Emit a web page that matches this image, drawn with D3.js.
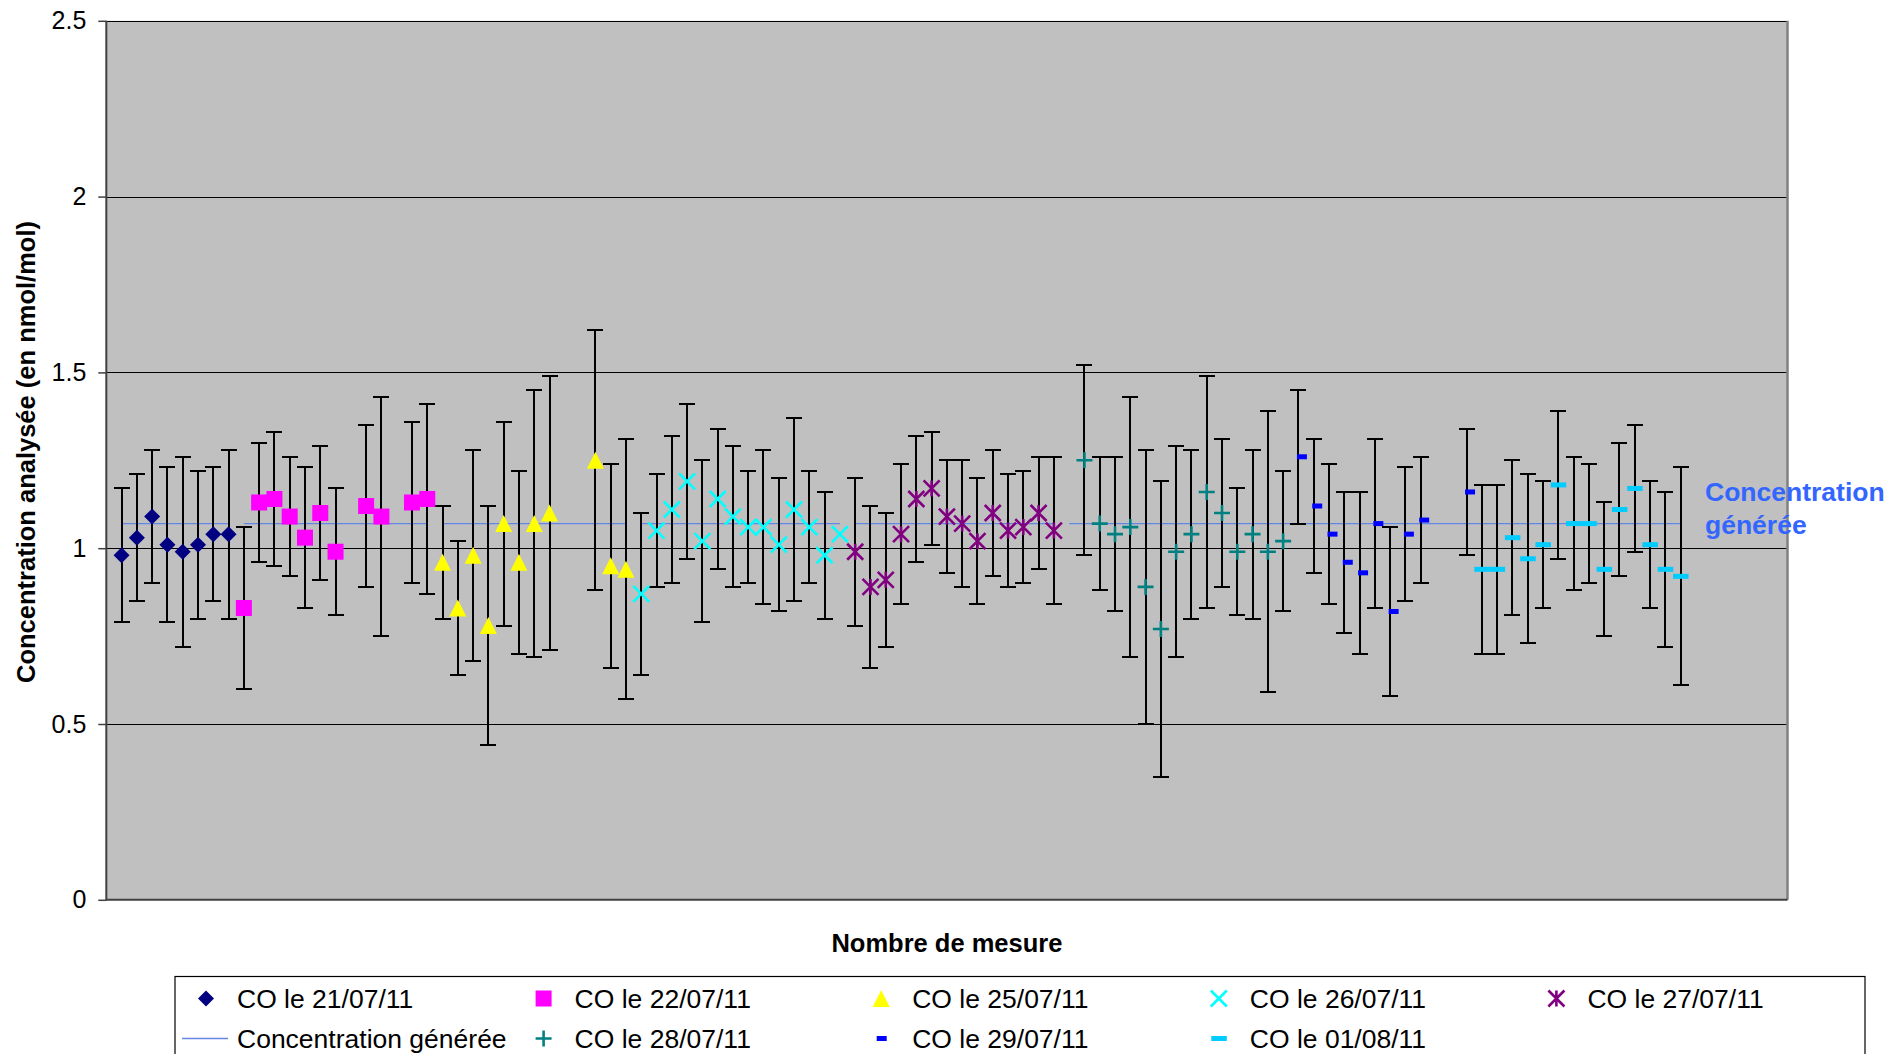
<!DOCTYPE html>
<html><head><meta charset="utf-8">
<script src="https://cdn.jsdelivr.net/npm/d3@7/dist/d3.min.js"></script>
<style>
body{margin:0;background:#fff;}
svg{display:block;font-family:"Liberation Sans",Arial,sans-serif;}
</style>
</head><body>
<svg id="chart" width="1890" height="1054"></svg>
<script>
// ---------- DATA ----------
const xMax = 110;
const yTicks = [0, 0.5, 1, 1.5, 2, 2.5];
const generatedValue = 1.07;
const generatedSegments = [[1, 8], [9, 21], [22, 34], [35, 48], [49, 62], [63, 103]];

const names = ["CO le 21/07/11", "CO le 22/07/11", "CO le 25/07/11", "CO le 26/07/11",
               "CO le 27/07/11", "CO le 28/07/11", "CO le 29/07/11", "CO le 01/08/11"];

const idx2107 = [1, 2, 3, 4, 5, 6, 7, 8];
const val2107 = [0.98, 1.03, 1.09, 1.01, 0.99, 1.01, 1.04, 1.04];
const hi2107  = [1.17, 1.21, 1.28, 1.23, 1.26, 1.22, 1.23, 1.28];
const lo2107  = [0.79, 0.85, 0.90, 0.79, 0.72, 0.80, 0.85, 0.80];

const idx2207 = [9, 10, 11, 12, 13, 14, 15, 17, 18, 20, 21];
const val2207 = [0.83, 1.13, 1.14, 1.09, 1.03, 1.10, 0.99, 1.12, 1.09, 1.13, 1.14];
const hi2207  = [1.06, 1.30, 1.33, 1.26, 1.23, 1.29, 1.17, 1.35, 1.43, 1.36, 1.41];
const lo2207  = [0.60, 0.96, 0.95, 0.92, 0.83, 0.91, 0.81, 0.89, 0.75, 0.90, 0.87];

const idx2507 = [22, 23, 24, 25, 26, 27, 28, 29, 32, 33, 34];
const val2507 = [0.96, 0.83, 0.98, 0.78, 1.07, 0.96, 1.07, 1.10, 1.25, 0.95, 0.94];
const hi2507  = [1.12, 1.02, 1.28, 1.12, 1.36, 1.22, 1.45, 1.49, 1.62, 1.24, 1.31];
const lo2507  = [0.80, 0.64, 0.68, 0.44, 0.78, 0.70, 0.69, 0.71, 0.88, 0.66, 0.57];

const idx2607 = [35, 36, 37, 38, 39, 40, 41, 42, 43, 44, 45, 46, 47, 48];
const val2607 = [0.87, 1.05, 1.11, 1.19, 1.02, 1.14, 1.09, 1.06, 1.06, 1.01, 1.11, 1.06, 0.98, 1.04];
const hi2607  = [1.10, 1.21, 1.32, 1.41, 1.25, 1.34, 1.29, 1.22, 1.28, 1.20, 1.37, 1.22, 1.16, null];
const lo2607  = [0.64, 0.89, 0.90, 0.97, 0.79, 0.94, 0.89, 0.90, 0.84, 0.82, 0.85, 0.90, 0.80, null];

const idx2707 = [49, 50, 51, 52, 53, 54, 55, 56, 57, 58, 59, 60, 61, 62];
const val2707 = [0.99, 0.89, 0.91, 1.04, 1.14, 1.17, 1.09, 1.07, 1.02, 1.10, 1.05, 1.06, 1.10, 1.05];
const hi2707  = [1.20, 1.12, 1.10, 1.24, 1.32, 1.33, 1.25, 1.25, 1.20, 1.28, 1.21, 1.22, 1.26, 1.26];
const lo2707  = [0.78, 0.66, 0.72, 0.84, 0.96, 1.01, 0.93, 0.89, 0.84, 0.92, 0.89, 0.90, 0.94, 0.84];

const idx2807 = [64, 65, 66, 67, 68, 69, 70, 71, 72, 73, 74, 75, 76, 77];
const val2807 = [1.25, 1.07, 1.04, 1.06, 0.89, 0.77, 0.99, 1.04, 1.16, 1.10, 0.99, 1.04, 0.99, 1.02];
const hi2807  = [1.52, 1.26, 1.26, 1.43, 1.28, 1.19, 1.29, 1.28, 1.49, 1.31, 1.17, 1.28, 1.39, 1.22];
const lo2807  = [0.98, 0.88, 0.82, 0.69, 0.50, 0.35, 0.69, 0.80, 0.83, 0.89, 0.81, 0.80, 0.59, 0.82];

const idx2907 = [78, 79, 80, 81, 82, 83, 84, 85, 86, 89];
const val2907 = [1.26, 1.12, 1.04, 0.96, 0.93, 1.07, 0.82, 1.04, 1.08, 1.16];
const hi2907  = [1.45, 1.31, 1.24, 1.16, 1.16, 1.31, 1.06, 1.23, 1.26, 1.34];
const lo2907  = [1.07, 0.93, 0.84, 0.76, 0.70, 0.83, 0.58, 0.85, 0.90, 0.98];

const idx0108 = [90, 91, 92, 93, 94, 95, 96, 97, 98, 99, 100, 101, 102, 103];
const val0108 = [0.94, 0.94, 1.03, 0.97, 1.01, 1.18, 1.07, 1.07, 0.94, 1.11, 1.17, 1.01, 0.94, 0.92];
const hi0108  = [1.18, 1.18, 1.25, 1.21, 1.19, 1.39, 1.26, 1.24, 1.13, 1.30, 1.35, 1.19, 1.16, 1.23];
const lo0108  = [0.70, 0.70, 0.81, 0.73, 0.83, 0.97, 0.88, 0.90, 0.75, 0.92, 0.99, 0.83, 0.72, 0.61];

// ---------- STYLE / BUILD ----------
const styles = [
  {marker: "diamond", color: "#000080"},
  {marker: "square", color: "#FF00FF"},
  {marker: "triangle", color: "#FFFF00"},
  {marker: "x", color: "#00FFFF"},
  {marker: "star", color: "#800080"},
  {marker: "plus", color: "#008080"},
  {marker: "dashSmall", color: "#0000FF"},
  {marker: "dashBig", color: "#00CCFF"}
];
const raw = [
  [idx2107, val2107, hi2107, lo2107], [idx2207, val2207, hi2207, lo2207],
  [idx2507, val2507, hi2507, lo2507], [idx2607, val2607, hi2607, lo2607],
  [idx2707, val2707, hi2707, lo2707], [idx2807, val2807, hi2807, lo2807],
  [idx2907, val2907, hi2907, lo2907], [idx0108, val0108, hi0108, lo0108]
];
const series = raw.map((r, k) => ({
  name: names[k], marker: styles[k].marker, color: styles[k].color,
  points: r[0].map((xi, j) => ({x: xi, v: r[1][j], hi: r[2][j], lo: r[3][j]}))
}));

const genColor = "#6487E6";
const L = 106.3, R = 1787.5, T = 20.8, B = 899.8;
const x = d3.scaleLinear().domain([0, xMax]).range([L, R]);
const y = d3.scaleLinear().domain([0, 2.5]).range([B, T]);

const svg = d3.select("#chart");
svg.append("rect").attr("width", 1890).attr("height", 1054).attr("fill", "#fff");

// plot area
svg.append("rect").attr("x", L).attr("y", T).attr("width", R - L).attr("height", B - T).attr("fill", "#C0C0C0");

// gridlines
svg.append("g").selectAll("line").data(yTicks.filter(d => d > 0)).join("line")
  .attr("x1", L).attr("x2", R).attr("y1", d => Math.round(y(d)) + 0.5).attr("y2", d => Math.round(y(d)) + 0.5)
  .attr("stroke", "#000").attr("stroke-width", 1);

// right border
svg.append("line").attr("x1", R).attr("x2", R).attr("y1", T).attr("y2", B)
  .attr("stroke", "#808080").attr("stroke-width", 2.5);

// y axis
const ax = svg.append("g").attr("transform", `translate(${L},0)`)
  .call(d3.axisLeft(y).tickValues(yTicks).tickFormat(d => String(d)).tickSize(8).tickPadding(12));
ax.attr("font-family", '"Liberation Sans",Arial,sans-serif').attr("font-size", 25);
ax.select(".domain").remove();
ax.selectAll(".tick line").attr("stroke", "#404040").attr("stroke-width", 1.5);
ax.selectAll(".tick text").attr("fill", "#000");

// axis lines
svg.append("line").attr("x1", L).attr("x2", L).attr("y1", T).attr("y2", B + 1)
  .attr("stroke", "#404040").attr("stroke-width", 2);
svg.append("line").attr("x1", L).attr("x2", R).attr("y1", B).attr("y2", B)
  .attr("stroke", "#404040").attr("stroke-width", 2);

// generated concentration line
const lineGen = d3.line().x(d => x(d)).y(() => y(generatedValue));
svg.append("g").selectAll("path").data(generatedSegments).join("path")
  .attr("d", d => lineGen(d)).attr("fill", "none").attr("stroke", genColor).attr("stroke-width", 1.4);

// error bars
const eb = svg.append("g").attr("stroke", "#000").attr("stroke-width", 2).attr("shape-rendering", "crispEdges");
series.forEach(s => {
  s.points.filter(p => p.hi != null).forEach(p => {
    const cx = Math.round(x(p.x));
    const yh = Math.round(y(p.hi)), yl = Math.round(y(p.lo));
    eb.append("line").attr("x1", cx).attr("x2", cx).attr("y1", yh).attr("y2", yl);
    eb.append("line").attr("x1", cx - 8).attr("x2", cx + 8).attr("y1", yh).attr("y2", yh);
    eb.append("line").attr("x1", cx - 8).attr("x2", cx + 8).attr("y1", yl).attr("y2", yl);
  });
});

// markers
function drawMarker(g, type, color, cx, cy) {
  const h = 8;
  if (type === "diamond") {
    g.append("path").attr("d", `M${cx},${cy - h}L${cx + h},${cy}L${cx},${cy + h}L${cx - h},${cy}Z`).attr("fill", color);
  } else if (type === "square") {
    g.append("rect").attr("x", cx - h).attr("y", cy - h).attr("width", 2 * h).attr("height", 2 * h).attr("fill", color);
  } else if (type === "triangle") {
    g.append("path").attr("d", `M${cx},${cy - 8.5}L${cx + 8.5},${cy + 8.5}L${cx - 8.5},${cy + 8.5}Z`).attr("fill", color);
  } else if (type === "x" || type === "star") {
    g.append("path").attr("d", `M${cx - h},${cy - h}L${cx + h},${cy + h}M${cx + h},${cy - h}L${cx - h},${cy + h}` +
      (type === "star" ? `M${cx},${cy - h}L${cx},${cy + h}` : ""))
      .attr("stroke", color).attr("stroke-width", 2.6).attr("fill", "none");
  } else if (type === "plus") {
    g.append("path").attr("d", `M${cx - h},${cy}L${cx + h},${cy}M${cx},${cy - h}L${cx},${cy + h}`)
      .attr("stroke", color).attr("stroke-width", 2.6).attr("fill", "none");
  } else if (type === "dashSmall") {
    g.append("rect").attr("x", cx - 1.5).attr("y", cy - 2.5).attr("width", 10).attr("height", 5).attr("fill", color);
  } else if (type === "dashBig") {
    g.append("rect").attr("x", cx - 7.5).attr("y", cy - 2.5).attr("width", 15.5).attr("height", 5).attr("fill", color);
  }
}
const mk = svg.append("g");
series.forEach(s => s.points.forEach(p => drawMarker(mk, s.marker, s.color, x(p.x), y(p.v))));

// titles
svg.append("text").attr("transform", `translate(35,452) rotate(-90)`).attr("text-anchor", "middle")
  .attr("font-weight", "bold").attr("font-size", 25.5).text("Concentration analysée (en nmol/mol)");
svg.append("text").attr("x", (L + R) / 2).attr("y", 952).attr("text-anchor", "middle")
  .attr("font-weight", "bold").attr("font-size", 25.5).text("Nombre de mesure");

// right label
const rl = svg.append("text").attr("font-weight", "bold").attr("font-size", 26.5).attr("fill", "#3366FF");
rl.append("tspan").attr("x", 1705).attr("y", 500.5).text("Concentration");
rl.append("tspan").attr("x", 1705).attr("y", 533.5).text("générée");

// legend
svg.append("rect").attr("x", 175).attr("y", 976.5).attr("width", 1690).attr("height", 120)
  .attr("fill", "#fff").attr("stroke", "#000").attr("stroke-width", 1.2);
const legendItems = [
  {s: series[0], row: 0, col: 0}, {s: series[1], row: 0, col: 1}, {s: series[2], row: 0, col: 2},
  {s: series[3], row: 0, col: 3}, {s: series[4], row: 0, col: 4},
  {s: null, row: 1, col: 0}, {s: series[5], row: 1, col: 1}, {s: series[6], row: 1, col: 2},
  {s: series[7], row: 1, col: 3}
];
const lg = svg.append("g");
legendItems.forEach(it => {
  const mx = 206 + it.col * 337.6, my = it.row === 0 ? 998.5 : 1038.5;
  if (it.s) {
    drawMarker(lg, it.s.marker, it.s.color, it.s.marker === "dashSmall" ? mx - 3 : mx, my);
  } else {
    lg.append("line").attr("x1", 182).attr("x2", 228).attr("y1", my).attr("y2", my)
      .attr("stroke", genColor).attr("stroke-width", 1.4);
  }
  lg.append("text").attr("x", 237 + it.col * 337.6).attr("y", my).attr("dy", "0.35em")
    .attr("font-size", 26.5).attr("fill", "#000")
    .text(it.s ? it.s.name : "Concentration générée");
});
</script>
</body></html>
